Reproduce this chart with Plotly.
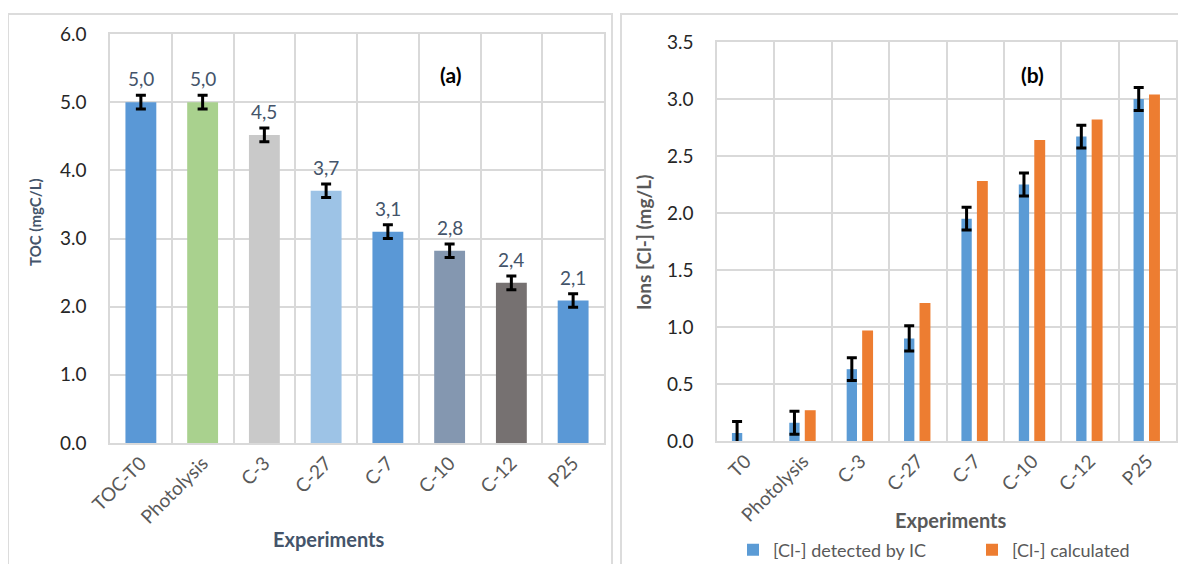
import plotly.graph_objects as go

# ---- data ----
toc_categories = ["TOC-T0", "Photolysis", "C-3", "C-27", "C-7", "C-10", "C-12", "P25"]
toc_values = [5.0, 5.0, 4.52, 3.7, 3.1, 2.82, 2.35, 2.09]
toc_errors = [0.1, 0.1, 0.1, 0.1, 0.1, 0.1, 0.1, 0.1]
toc_labels = ["5,0", "5,0", "4,5", "3,7", "3,1", "2,8", "2,4", "2,1"]
toc_colors = ["#5A98D6", "#A9D18E", "#C9C9C9", "#9DC3E6", "#5A98D6", "#8497B0", "#767171", "#5A98D6"]

ion_categories = ["T0", "Photolysis", "C-3", "C-27", "C-7", "C-10", "C-12", "P25"]
ion_detected = [0.07, 0.16, 0.63, 0.90, 1.95, 2.25, 2.67, 3.00]
ion_detected_err = [0.1, 0.1, 0.1, 0.11, 0.1, 0.1, 0.1, 0.1]
ion_calculated = [0.0, 0.27, 0.97, 1.21, 2.28, 2.64, 2.82, 3.04]

W, H = 1186, 564
OFF = 8  # page body margin of the browser
FONT = "Lato, 'Open Sans', sans-serif"
GRID = "#D9D9D9"
TITLE_C = "#44546A"

def px(x):
    return (x - OFF) / W

def py(y):
    return 1 - (y - OFF) / H

fig = go.Figure()

fig.add_trace(go.Bar(
    x=toc_categories, y=toc_values, width=0.5,
    marker=dict(color=toc_colors, line=dict(width=0)),
    error_y=dict(type="data", array=toc_errors, color="black", thickness=3, width=5),
    showlegend=False, xaxis="x", yaxis="y", hoverinfo="x+y",
))

fig.add_trace(go.Bar(
    x=ion_categories, y=ion_detected, width=0.18, offset=-0.24,
    name="[Cl-] detected by IC",
    marker=dict(color="#5B9BD5", line=dict(width=0)),
    error_y=dict(type="data", array=ion_detected_err, color="black", thickness=3, width=5),
    xaxis="x2", yaxis="y2",
))
fig.add_trace(go.Bar(
    x=ion_categories, y=ion_calculated, width=0.19, offset=0.03,
    name="[Cl-] calculated",
    marker=dict(color="#ED7D31", line=dict(width=0)),
    xaxis="x2", yaxis="y2",
))

annotations = []
for c, v, e, t in zip(toc_categories, toc_values, toc_errors, toc_labels):
    annotations.append(dict(
        x=c, y=v + e, xref="x", yref="y", text=t, showarrow=False,
        xanchor="center", yanchor="bottom", yshift=3,
        font=dict(family=FONT, size=19, color="#44546A"),
    ))

def paper_text(x, y, text, size, color, angle=0):
    return dict(x=px(x), y=py(y), xref="paper", yref="paper", text=text, showarrow=False,
                xanchor="center", yanchor="middle", textangle=angle,
                font=dict(family=FONT, size=size, color=color))

annotations += [
    paper_text(450, 75, "<b>(a)</b>", 21, "black"),
    paper_text(1032, 75, "<b>(b)</b>", 21, "black"),
    paper_text(35, 222, "<b>TOC (mgC/L)</b>", 15, TITLE_C, -90),
    paper_text(643, 243, "<b>Ions [Cl-] (mg/L)</b>", 19, "#595959", -90),
    paper_text(329, 539, "<b>Experiments</b>", 20, TITLE_C),
    paper_text(951, 520, "<b>Experiments</b>", 20, "#595959"),
]

shapes = [
    dict(type="rect", xref="paper", yref="paper", x0=px(8), x1=px(612), y0=py(600), y1=py(14),
         line=dict(color="#DCDCDC", width=2), layer="below"),
    dict(type="rect", xref="paper", yref="paper", x0=px(621), x1=px(1200), y0=py(600), y1=py(14),
         line=dict(color="#DCDCDC", width=2), layer="below"),
]

xaxis_common = dict(
    type="category", tickson="boundaries", showgrid=True, gridcolor=GRID, gridwidth=1.5,
    showline=True, linecolor=GRID, linewidth=1.5, mirror=True, ticks="",
    tickangle=-45, tickfont=dict(family=FONT, size=19, color="#595959"),
    range=[-0.5, 7.5], zeroline=False, automargin=False,
)
yaxis_common = dict(
    showgrid=True, gridcolor=GRID, gridwidth=1.5, showline=True, linecolor=GRID, linewidth=1.5,
    mirror=True, ticks="", zeroline=False, tickformat=".1f", automargin=False,
    tickfont=dict(family=FONT, size=19, color="#262626"), ticklabelstandoff=18,
)

fig.update_layout(
    width=W, height=H, margin=dict(l=0, r=0, t=0, b=0, autoexpand=False),
    paper_bgcolor="white", plot_bgcolor="white",
    barmode="overlay",
    xaxis=dict(xaxis_common, domain=[px(110), px(604)], anchor="y"),
    yaxis=dict(yaxis_common, domain=[py(443), py(34)], range=[0, 6.0], dtick=1.0, anchor="x"),
    xaxis2=dict(xaxis_common, domain=[px(717), px(1176)], anchor="y2"),
    yaxis2=dict(yaxis_common, domain=[py(441), py(42)], range=[0, 3.5], dtick=0.5, anchor="x2"),
    legend=dict(orientation="h", x=px(733), y=py(550), xanchor="left", yanchor="middle",
                font=dict(family=FONT, size=18, color="#595959"),
                entrywidth=194, entrywidthmode="pixels", bgcolor="rgba(0,0,0,0)",
                itemsizing="constant", itemwidth=30),
    annotations=annotations, shapes=shapes,
    font=dict(family=FONT),
)

fig.write_html("out.html")
